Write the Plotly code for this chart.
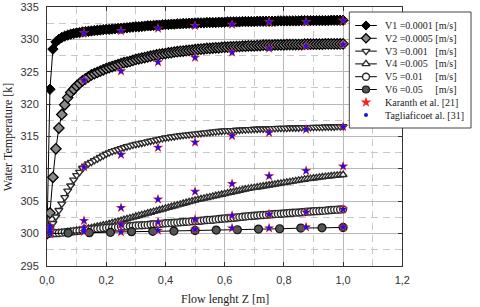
import plotly.graph_objects as go

# ---------------- data ----------------
x_fine = [0.00, 0.01, 0.02, 0.03, 0.04, 0.05, 0.06, 0.07, 0.08, 0.09,
          0.10, 0.11, 0.12, 0.13, 0.14, 0.15, 0.16, 0.17, 0.18, 0.19,
          0.20, 0.21, 0.22, 0.23, 0.24, 0.25, 0.26, 0.27, 0.28, 0.29,
          0.30, 0.31, 0.32, 0.33, 0.34, 0.35, 0.36, 0.37, 0.38, 0.39,
          0.40, 0.41, 0.42, 0.43, 0.44, 0.45, 0.46, 0.47, 0.48, 0.49,
          0.50, 0.51, 0.52, 0.53, 0.54, 0.55, 0.56, 0.57, 0.58, 0.59,
          0.60, 0.61, 0.62, 0.63, 0.64, 0.65, 0.66, 0.67, 0.68, 0.69,
          0.70, 0.71, 0.72, 0.73, 0.74, 0.75, 0.76, 0.77, 0.78, 0.79,
          0.80, 0.81, 0.82, 0.83, 0.84, 0.85, 0.86, 0.87, 0.88, 0.89,
          0.90, 0.91, 0.92, 0.93, 0.94, 0.95, 0.96, 0.97, 0.98, 0.99,
          1.00]

v1 = [300.0, 322.3, 328.5, 329.6, 330.0, 330.3, 330.5, 330.65, 330.8, 330.9,
      331.0, 331.05, 331.15, 331.2, 331.25, 331.3, 331.35, 331.4, 331.45, 331.5,
      331.55, 331.55, 331.6, 331.65, 331.7, 331.7, 331.75, 331.8, 331.85, 331.9,
      331.95, 331.95, 332.0, 332.05, 332.1, 332.1, 332.15, 332.2, 332.2, 332.25,
      332.3, 332.3, 332.35, 332.35, 332.4, 332.4, 332.45, 332.45, 332.5, 332.5,
      332.55, 332.55, 332.55, 332.55, 332.6, 332.6, 332.6, 332.6, 332.65, 332.65,
      332.65, 332.7, 332.7, 332.7, 332.7, 332.7, 332.75, 332.75, 332.75, 332.75,
      332.75, 332.8, 332.8, 332.8, 332.8, 332.8, 332.8, 332.8, 332.85, 332.85,
      332.85, 332.85, 332.85, 332.85, 332.85, 332.85, 332.9, 332.9, 332.9, 332.9,
      332.9, 332.9, 332.9, 332.9, 332.9, 332.9, 332.95, 332.95, 332.95, 332.95,
      332.95]

v2 = [300.0, 303.2, 308.7, 313.1, 316.3, 318.4, 319.9, 321.0, 321.8, 322.3,
      322.8, 323.2, 323.6, 323.9, 324.2, 324.5, 324.7, 324.9, 325.1, 325.3,
      325.5, 325.65, 325.8, 325.95, 326.1, 326.25, 326.4, 326.5, 326.6, 326.75,
      326.9, 327.0, 327.1, 327.2, 327.3, 327.4, 327.5, 327.6, 327.7, 327.75,
      327.8, 327.9, 327.95, 328.05, 328.1, 328.15, 328.2, 328.25, 328.3, 328.35,
      328.4, 328.45, 328.5, 328.55, 328.6, 328.6, 328.65, 328.7, 328.7, 328.75,
      328.8, 328.8, 328.85, 328.85, 328.9, 328.9, 328.95, 328.95, 329.0, 329.0,
      329.0, 329.05, 329.05, 329.1, 329.1, 329.1, 329.1, 329.15, 329.15, 329.15,
      329.15, 329.2, 329.2, 329.2, 329.2, 329.2, 329.2, 329.25, 329.25, 329.25,
      329.25, 329.25, 329.25, 329.25, 329.3, 329.3, 329.3, 329.3, 329.3, 329.3,
      329.3]

v3 = [300.0, 300.8, 301.6, 302.6, 303.6, 304.6, 305.6, 306.6, 307.4, 308.3,
      309.0, 309.5, 310.1, 310.45, 310.8, 311.05, 311.3, 311.55, 311.8, 312.05,
      312.3, 312.5, 312.7, 312.85, 313.0, 313.15, 313.3, 313.45, 313.55, 313.7,
      313.8, 313.9, 314.0, 314.1, 314.2, 314.3, 314.4, 314.5, 314.6, 314.7,
      314.8, 314.85, 314.95, 315.0, 315.1, 315.15, 315.2, 315.25, 315.3, 315.35,
      315.4, 315.45, 315.5, 315.55, 315.6, 315.65, 315.7, 315.75, 315.8, 315.85,
      315.9, 315.9, 315.95, 315.95, 316.0, 316.0, 316.05, 316.05, 316.1, 316.1,
      316.15, 316.15, 316.2, 316.2, 316.2, 316.2, 316.25, 316.25, 316.3, 316.3,
      316.3, 316.3, 316.35, 316.35, 316.35, 316.35, 316.4, 316.4, 316.4, 316.4,
      316.45, 316.45, 316.45, 316.45, 316.5, 316.5, 316.5, 316.5, 316.55, 316.55,
      316.55]

v4 = [300.0, 300.02, 300.05, 300.07, 300.1, 300.15, 300.2, 300.25, 300.3, 300.37,
      300.45, 300.52, 300.6, 300.7, 300.8, 300.9, 301.0, 301.1, 301.2, 301.3,
      301.4, 301.52, 301.65, 301.77, 301.9, 302.02, 302.15, 302.27, 302.4, 302.52,
      302.65, 302.77, 302.9, 303.02, 303.15, 303.27, 303.4, 303.52, 303.65, 303.77,
      303.9, 304.02, 304.15, 304.27, 304.4, 304.52, 304.65, 304.77, 304.9, 305.02,
      305.15, 305.25, 305.35, 305.45, 305.55, 305.65, 305.75, 305.85, 305.95, 306.05,
      306.15, 306.25, 306.35, 306.45, 306.55, 306.65, 306.75, 306.85, 306.95, 307.02,
      307.1, 307.17, 307.25, 307.32, 307.4, 307.47, 307.55, 307.62, 307.7, 307.77,
      307.85, 307.92, 308.0, 308.07, 308.15, 308.22, 308.3, 308.37, 308.45, 308.5,
      308.55, 308.62, 308.7, 308.75, 308.8, 308.85, 308.9, 308.95, 309.0, 309.05,
      309.1]

v5 = [300.0, 300.02, 300.05, 300.07, 300.1, 300.15, 300.2, 300.25, 300.3, 300.35,
      300.4, 300.45, 300.5, 300.55, 300.6, 300.65, 300.7, 300.75, 300.8, 300.85,
      300.9, 300.92, 300.95, 300.97, 301.0, 301.05, 301.1, 301.12, 301.15, 301.2,
      301.25, 301.27, 301.3, 301.32, 301.35, 301.4, 301.45, 301.47, 301.5, 301.55,
      301.6, 301.62, 301.65, 301.67, 301.7, 301.75, 301.8, 301.82, 301.85, 301.9,
      301.95, 301.97, 302.0, 302.05, 302.1, 302.12, 302.15, 302.2, 302.25, 302.3,
      302.35, 302.37, 302.4, 302.45, 302.5, 302.55, 302.6, 302.65, 302.7, 302.72,
      302.75, 302.8, 302.85, 302.87, 302.9, 302.95, 303.0, 303.02, 303.05, 303.07,
      303.1, 303.15, 303.2, 303.22, 303.25, 303.27, 303.3, 303.35, 303.4, 303.42,
      303.45, 303.47, 303.5, 303.52, 303.55, 303.6, 303.65, 303.67, 303.7, 303.72,
      303.75]

x_v6 = [0.0, 0.0714, 0.1429, 0.2143, 0.2857, 0.3571, 0.4286, 0.5,
        0.5714, 0.6429, 0.7143, 0.7857, 0.8571, 0.9286, 1.0]
v6 = [300.0, 300.1, 300.15, 300.2, 300.3, 300.35, 300.4, 300.5,
      300.55, 300.6, 300.7, 300.75, 300.85, 300.9, 300.95]

# reference (literature) points
ref_x = [0.01, 0.125, 0.25, 0.375, 0.5, 0.625, 0.75, 0.875, 1.0]
ref_v1 = [None, 331.0, 331.3, 331.7, 332.1, 332.3, 332.7, 332.7, 332.9]
ref_v2 = [None, 323.7, 325.1, 326.5, 327.2, 328.0, 328.6, 329.0, 329.2]
ref_v3 = [301.2, 310.3, 312.2, 313.3, 314.1, 315.1, 315.6, 316.1, 316.5]
ref_v4 = [300.6, 302.0, 304.0, 305.3, 306.5, 307.7, 308.9, 309.7, 310.4]
ref_v5 = [300.2, 300.9, 301.4, 301.8, 302.2, 302.8, 303.0, 303.3, 303.75]
ref_v6 = [300.0, 300.3, 300.25, 300.5, 300.65, 300.85, 300.85, 301.0, 301.0]

NB = "\u00a0"
names = ["V1 =0.0001 [m/s]", "V2 =0.0005 [m/s]",
         "V3 =0.001" + NB * 3 + "[m/s]", "V4 =0.005" + NB * 3 + "[m/s]",
         "V5 =0.01" + NB * 5 + "[m/s]", "V6 =0.05" + NB * 5 + "[m/s]"]
ref_names = ["Karanth et al. [21]", "Tagliaficoet al. [31]"]

x_ticks = [0.0, 0.2, 0.4, 0.6, 0.8, 1.0, 1.2]
y_ticks = [295, 300, 305, 310, 315, 320, 325, 330, 335]

# ---------------- layout constants (pixels) ----------------
W, H = 480, 307
ML, MT, MB = 47, 7, 41
PLOT_R = 409                      # right edge of the data frame
PW = W - ML                       # full overlay width (to right edge of image)
PH = H - MT - MB
SERIF = "Liberation Serif, Times New Roman, serif"
SANS = "Liberation Sans, Arial, sans-serif"

markers = [
    dict(symbol="diamond", color="black", size=8, line=dict(color="black", width=1)),
    dict(symbol="diamond", color="#8a8a8a", size=8, line=dict(color="black", width=1.3)),
    dict(symbol="triangle-down", color="white", size=7, line=dict(color="#2a2a2a", width=1.4)),
    dict(symbol="triangle-up", color="white", size=7, line=dict(color="#2a2a2a", width=1.4)),
    dict(symbol="circle", color="white", size=7, line=dict(color="#2a2a2a", width=1.4)),
    dict(symbol="circle", color="#555", size=8, line=dict(color="#111", width=1.2)),
]
ref_markers = [
    dict(symbol="star", color="#ff2a2a", size=8, line=dict(width=0)),
    dict(symbol="star", color="#1414e6", size=6, line=dict(width=0)),
]

fig = go.Figure()

series_x = [x_fine, x_fine, x_fine, x_fine, x_fine, x_v6]
series_y = [v1, v2, v3, v4, v5, v6]
for xs, ys, mk, nm in zip(series_x, series_y, markers, names):
    fig.add_trace(go.Scatter(x=xs, y=ys, mode="lines+markers", name=nm,
                             line=dict(color="black", width=1), marker=mk,
                             xaxis="x", yaxis="y"))

rx, ry = [], []
for r in (ref_v1, ref_v2, ref_v3, ref_v4, ref_v5, ref_v6):
    for xv, yv in zip(ref_x, r):
        if yv is not None:
            rx.append(xv)
            ry.append(yv)
for nm, mk in zip(ref_names, ref_markers):
    fig.add_trace(go.Scatter(x=rx, y=ry, mode="markers", name=nm, marker=mk,
                             xaxis="x", yaxis="y"))

# ---------------- custom compact legend (overlay pixel axes) ----------------
LX0, LX1, LY0, LY1 = 355, 479, 12, 128
ROW0, ROWH = 25.5, 12.8
SX0, SX1 = 361, 383
TX = 389

fig.add_trace(go.Scatter(x=[LX0, LX1, LX1, LX0, LX0], y=[LY0, LY0, LY1, LY1, LY0],
                         mode="lines", fill="toself", fillcolor="white",
                         line=dict(color="#444", width=1), hoverinfo="skip",
                         showlegend=False, xaxis="x2", yaxis="y2"))

annotations = []
for i, (nm, mk) in enumerate(zip(names, markers)):
    ry_ = ROW0 + i * ROWH
    fig.add_trace(go.Scatter(x=[SX0, SX1], y=[ry_, ry_], mode="lines",
                             line=dict(color="black", width=1), showlegend=False,
                             hoverinfo="skip", xaxis="x2", yaxis="y2"))
    lm = dict(mk)
    lm["size"] = 7
    fig.add_trace(go.Scatter(x=[(SX0 + SX1) / 2], y=[ry_], mode="markers", marker=lm,
                             showlegend=False, hoverinfo="skip", xaxis="x2", yaxis="y2"))
    annotations.append(dict(x=TX, y=ry_, xref="x2", yref="y2", text=nm, showarrow=False,
                            xanchor="left", yanchor="middle",
                            font=dict(family=SERIF, size=10, color="#222")))

leg_ref_markers = [dict(symbol="star", color="#ff2020", size=8, line=dict(width=0)),
                   dict(symbol="circle", color="#1414e6", size=4, line=dict(width=0))]
for j, (nm, mk) in enumerate(zip(ref_names, leg_ref_markers)):
    ry_ = ROW0 + (6 + j) * ROWH
    fig.add_trace(go.Scatter(x=[(SX0 + SX1) / 2], y=[ry_], mode="markers", marker=mk,
                             showlegend=False, hoverinfo="skip", xaxis="x2", yaxis="y2"))
    annotations.append(dict(x=TX, y=ry_, xref="x2", yref="y2", text=nm, showarrow=False,
                            xanchor="left", yanchor="middle",
                            font=dict(family=SERIF, size=10, color="#222")))

# axis titles (paper coordinates)
annotations.append(dict(x=(7 - ML) / PW, y=0.5, xref="paper", yref="paper",
                        text="Water Temperature [k]", textangle=-90, showarrow=False,
                        xanchor="center", yanchor="middle",
                        font=dict(family=SERIF, size=12, color="#222")))
annotations.append(dict(x=((ML + PLOT_R) / 2 - ML) / PW, y=(MT + PH - 299) / PH,
                        xref="paper", yref="paper",
                        text="Flow lenght Z [m]", showarrow=False,
                        xanchor="center", yanchor="middle",
                        font=dict(family=SERIF, size=12, color="#222")))

axis_common = dict(
    showline=True, linecolor="#333", linewidth=1, mirror="ticks",
    ticks="inside", ticklen=4, tickcolor="#333",
    showgrid=True, gridcolor="#b8b8b8", gridwidth=1,
    zeroline=False,
    tickfont=dict(family=SANS, size=11, color="#333"),
)

fig.update_layout(
    width=W, height=H,
    margin=dict(l=ML, r=0, t=MT, b=MB),
    paper_bgcolor="white", plot_bgcolor="rgba(0,0,0,0)",
    separators=", ",
    showlegend=False,
    hovermode=False,
    xaxis=dict(domain=[0, (PLOT_R - ML) / PW], range=[0, 1.2], tickvals=x_ticks,
               tickformat=".1f", ticklabelstandoff=4,
               minor=dict(dtick=0.1, showgrid=True, gridcolor="#c8c8c8", griddash="7px,5px", ticks=""),
               anchor="y", **axis_common),
    yaxis=dict(domain=[0, 1], range=[295, 335], tickvals=y_ticks, tickformat="d",
               ticklabelstandoff=5,
               minor=dict(dtick=2.5, showgrid=True, gridcolor="#c8c8c8", griddash="7px,5px", ticks=""),
               anchor="x", **axis_common),
    xaxis2=dict(domain=[0, 1], range=[ML, W], visible=False, anchor="y2", fixedrange=True),
    yaxis2=dict(domain=[0, 1], range=[MT + PH, MT], visible=False, anchor="x2", fixedrange=True),
    annotations=annotations,
)

# remove the browser's default 8px body margin so the figure fills the window exactly
fig.write_html("out.html", config={"displayModeBar": False, "staticPlot": True},
               post_script="document.body.style.margin='0';document.body.style.overflow='hidden';")
